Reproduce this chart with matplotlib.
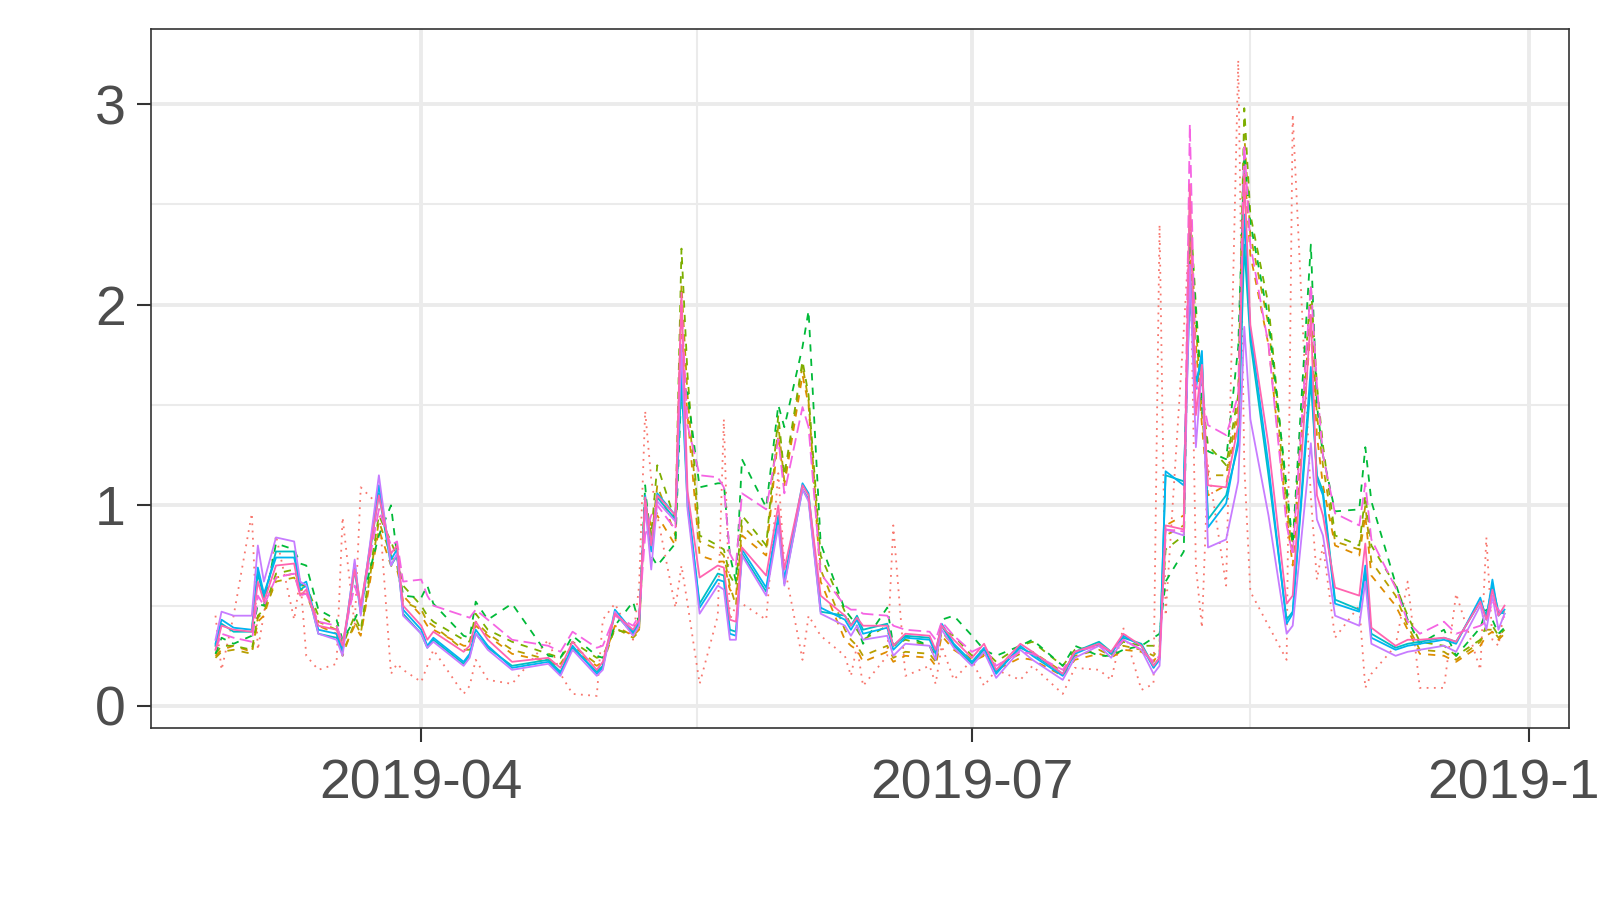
import numpy as np
import pandas as pd
import matplotlib
matplotlib.use("Agg")
import matplotlib.pyplot as plt
import matplotlib.dates as mdates
from matplotlib.ticker import FixedLocator

plt.rcParams['font.family'] = ['Liberation Sans', 'DejaVu Sans']

# Business days kept as line vertices (Feb 26 - Sep 27, 2019)
dates = pd.to_datetime([
    # A: Feb 26 - Mar 29
    "2019-02-26", "2019-02-27", "2019-03-01", "2019-03-04", "2019-03-05", "2019-03-06",
    "2019-03-08", "2019-03-11", "2019-03-12", "2019-03-13", "2019-03-15", "2019-03-18",
    "2019-03-19", "2019-03-21", "2019-03-22", "2019-03-25", "2019-03-27", "2019-03-28",
    "2019-03-29",
    # B: Apr 1 - May 3
    "2019-04-01", "2019-04-02", "2019-04-03", "2019-04-08", "2019-04-09", "2019-04-10",
    "2019-04-12", "2019-04-16", "2019-04-22", "2019-04-24", "2019-04-26", "2019-04-30",
    "2019-05-01", "2019-05-03",
    # C: May 6 - May 31
    "2019-05-06", "2019-05-07", "2019-05-08", "2019-05-09", "2019-05-10", "2019-05-13",
    "2019-05-14", "2019-05-15", "2019-05-17", "2019-05-20", "2019-05-21", "2019-05-22",
    "2019-05-23", "2019-05-24", "2019-05-28", "2019-05-30", "2019-05-31",
    # D: Jun
    "2019-06-03", "2019-06-04", "2019-06-06", "2019-06-10", "2019-06-11", "2019-06-12",
    "2019-06-13", "2019-06-17", "2019-06-18", "2019-06-20", "2019-06-24", "2019-06-25",
    "2019-06-26", "2019-06-28",
    # E: Jul
    "2019-07-01", "2019-07-03", "2019-07-05", "2019-07-09", "2019-07-11", "2019-07-16",
    "2019-07-18", "2019-07-22", "2019-07-24", "2019-07-26", "2019-07-29", "2019-07-31",
    # F: Aug
    "2019-08-01", "2019-08-02", "2019-08-05", "2019-08-06", "2019-08-07", "2019-08-08",
    "2019-08-09", "2019-08-12", "2019-08-14", "2019-08-15", "2019-08-16", "2019-08-19",
    "2019-08-22", "2019-08-23", "2019-08-26", "2019-08-27", "2019-08-28", "2019-08-30",
    # G: Sep
    "2019-09-03", "2019-09-04", "2019-09-05", "2019-09-09", "2019-09-11", "2019-09-13",
    "2019-09-17", "2019-09-19", "2019-09-23", "2019-09-24", "2019-09-25", "2019-09-26",
    "2019-09-27",
])

obs_red = [
    0.45, 0.18, 0.45, 0.96, 0.28, 0.46, 0.85, 0.43, 0.64, 0.25, 0.18, 0.21, 0.94, 0.40, 1.09, 1.00, 0.16, 0.21, 0.18,
    0.12, 0.20, 0.28, 0.06, 0.10, 0.23, 0.13, 0.11, 0.33, 0.16, 0.06, 0.05, 0.43, 0.51,
    0.33, 0.60, 1.47, 1.13, 0.95, 0.49, 0.70, 0.51, 0.11, 0.45, 1.43, 0.43, 0.50, 0.51, 0.43, 1.16, 0.70,
    0.23, 0.45, 0.35, 0.25, 0.15, 0.30, 0.10, 0.25, 0.90, 0.15, 0.20, 0.11, 0.30, 0.13,
    0.23, 0.10, 0.18, 0.13, 0.20, 0.06, 0.19, 0.18, 0.13, 0.39, 0.08, 0.11,
    2.40, 0.45, 1.87, 2.40, 0.70, 0.39, 1.20, 0.60, 3.22, 1.20, 0.57, 0.40, 0.23, 2.95, 1.04, 0.63, 0.80, 0.34,
    0.50, 0.09, 0.16, 0.30, 0.62, 0.09, 0.09, 0.56, 0.18, 0.84, 0.33, 0.30, 0.49,
]

dash_orange = [
    0.25, 0.28, 0.30, 0.27, 0.42, 0.45, 0.64, 0.66, 0.56, 0.56, 0.40, 0.36, 0.27, 0.40, 0.35, 0.88, 0.70, 0.68, 0.55,
    0.45, 0.40, 0.38, 0.30, 0.30, 0.40, 0.35, 0.26, 0.22, 0.20, 0.28, 0.20, 0.22, 0.40,
    0.35, 0.38, 1.00, 0.90, 0.95, 0.80, 1.85, 1.45, 0.75, 0.72, 0.72, 0.58, 0.55, 0.85, 0.75, 1.35, 1.10,
    1.65, 1.50, 0.62, 0.33, 0.30, 0.28, 0.22, 0.27, 0.22, 0.25, 0.24, 0.20, 0.35, 0.28,
    0.22, 0.25, 0.18, 0.24, 0.23, 0.15, 0.23, 0.26, 0.24, 0.28, 0.27, 0.22,
    0.27, 0.90, 0.95, 2.30, 1.80, 1.40, 1.05, 1.10, 1.45, 2.70, 2.25, 1.80, 0.95, 0.70, 1.90, 1.35, 1.10, 0.80,
    0.75, 0.95, 0.65, 0.50, 0.38, 0.26, 0.25, 0.22, 0.30, 0.35, 0.37, 0.33, 0.36,
]

dash_mustard = [
    0.24, 0.27, 0.28, 0.26, 0.44, 0.47, 0.62, 0.64, 0.58, 0.58, 0.42, 0.38, 0.25, 0.42, 0.36, 0.92, 0.75, 0.70, 0.52,
    0.48, 0.42, 0.40, 0.28, 0.28, 0.42, 0.36, 0.28, 0.23, 0.21, 0.30, 0.21, 0.21, 0.39,
    0.34, 0.37, 1.02, 0.82, 1.10, 0.85, 2.10, 1.55, 0.82, 0.78, 0.75, 0.60, 0.50, 0.90, 0.78, 1.40, 1.12,
    1.70, 1.52, 0.68, 0.38, 0.33, 0.30, 0.25, 0.30, 0.24, 0.27, 0.26, 0.22, 0.37, 0.30,
    0.23, 0.26, 0.20, 0.26, 0.27, 0.17, 0.25, 0.28, 0.25, 0.30, 0.28, 0.25,
    0.29, 0.85, 0.90, 2.40, 1.90, 1.45, 1.15, 1.15, 1.50, 2.85, 2.35, 1.90, 1.00, 0.75, 2.00, 1.45, 1.20, 0.82,
    0.78, 1.00, 0.72, 0.55, 0.40, 0.28, 0.27, 0.23, 0.32, 0.38, 0.38, 0.34, 0.37,
]

dash_olive = [
    0.26, 0.30, 0.30, 0.28, 0.45, 0.48, 0.66, 0.68, 0.60, 0.60, 0.45, 0.40, 0.30, 0.45, 0.38, 0.95, 0.82, 0.74, 0.60,
    0.50, 0.45, 0.42, 0.33, 0.32, 0.46, 0.38, 0.32, 0.26, 0.24, 0.32, 0.24, 0.25, 0.38,
    0.36, 0.40, 1.05, 0.85, 1.20, 0.92, 2.28, 1.65, 0.85, 0.80, 0.78, 0.65, 0.60, 0.95, 0.80, 1.45, 1.15,
    1.72, 1.55, 0.75, 0.47, 0.40, 0.38, 0.33, 0.40, 0.30, 0.33, 0.30, 0.25, 0.38, 0.35,
    0.25, 0.28, 0.22, 0.30, 0.32, 0.20, 0.28, 0.30, 0.26, 0.32, 0.30, 0.30,
    0.32, 0.78, 0.85, 2.50, 2.00, 1.55, 1.30, 1.20, 1.55, 2.98, 2.45, 2.00, 1.05, 0.80, 2.10, 1.60, 1.30, 0.85,
    0.80, 1.05, 0.80, 0.60, 0.45, 0.32, 0.30, 0.25, 0.33, 0.40, 0.40, 0.35, 0.38,
]

dash_green = [
    0.26, 0.34, 0.31, 0.35, 0.51, 0.50, 0.81, 0.78, 0.71, 0.70, 0.48, 0.43, 0.33, 0.43, 0.50, 0.85, 1.00, 0.75, 0.55,
    0.54, 0.60, 0.51, 0.35, 0.34, 0.52, 0.43, 0.51, 0.25, 0.24, 0.35, 0.25, 0.24, 0.40,
    0.52, 0.41, 1.10, 0.75, 0.70, 0.81, 1.60, 1.56, 1.09, 1.11, 1.11, 0.75, 0.62, 1.23, 0.99, 1.50, 1.39,
    1.79, 1.97, 0.81, 0.48, 0.44, 0.40, 0.31, 0.49, 0.30, 0.35, 0.30, 0.23, 0.43, 0.45,
    0.35, 0.28, 0.25, 0.30, 0.33, 0.20, 0.30, 0.25, 0.25, 0.28, 0.30, 0.34,
    0.36, 0.62, 0.77, 2.41, 1.97, 1.49, 1.27, 1.23, 1.79, 2.75, 2.41, 1.93, 1.09, 0.81, 2.30, 1.50, 1.25, 0.97,
    0.98, 1.29, 1.02, 0.61, 0.43, 0.31, 0.38, 0.25, 0.39, 0.48, 0.43, 0.36, 0.39,
]

solid_cyan = [
    0.30, 0.41, 0.37, 0.37, 0.66, 0.54, 0.77, 0.77, 0.58, 0.60, 0.36, 0.34, 0.27, 0.68, 0.46, 1.06, 0.70, 0.75, 0.46,
    0.36, 0.29, 0.33, 0.21, 0.25, 0.36, 0.29, 0.20, 0.23, 0.17, 0.29, 0.17, 0.20, 0.46,
    0.36, 0.41, 1.02, 0.80, 1.04, 0.93, 1.62, 1.00, 0.51, 0.66, 0.65, 0.38, 0.37, 0.76, 0.57, 0.92, 0.61,
    1.08, 1.03, 0.47, 0.45, 0.40, 0.45, 0.38, 0.41, 0.30, 0.35, 0.34, 0.27, 0.40, 0.30,
    0.21, 0.28, 0.17, 0.29, 0.26, 0.16, 0.27, 0.32, 0.27, 0.34, 0.31, 0.20,
    0.24, 1.15, 1.12, 2.05, 1.62, 1.72, 0.93, 1.05, 1.30, 2.30, 1.82, 1.15, 0.43, 0.47, 1.62, 1.15, 1.07, 0.53,
    0.48, 0.66, 0.36, 0.29, 0.31, 0.32, 0.34, 0.32, 0.52, 0.45, 0.60, 0.47, 0.46,
]

solid_blue = [
    0.31, 0.43, 0.39, 0.38, 0.69, 0.56, 0.74, 0.74, 0.60, 0.62, 0.38, 0.36, 0.28, 0.71, 0.48, 1.10, 0.73, 0.78, 0.48,
    0.38, 0.30, 0.34, 0.22, 0.26, 0.38, 0.30, 0.19, 0.22, 0.16, 0.30, 0.16, 0.19, 0.48,
    0.37, 0.42, 1.05, 0.77, 1.06, 0.95, 1.71, 1.04, 0.49, 0.63, 0.62, 0.36, 0.35, 0.78, 0.59, 0.95, 0.63,
    1.11, 1.06, 0.49, 0.43, 0.38, 0.43, 0.36, 0.39, 0.28, 0.34, 0.33, 0.26, 0.41, 0.31,
    0.22, 0.29, 0.16, 0.30, 0.25, 0.15, 0.26, 0.31, 0.26, 0.35, 0.30, 0.19,
    0.23, 1.17, 1.10, 2.19, 1.58, 1.77, 0.89, 1.01, 1.33, 2.45, 1.87, 1.20, 0.41, 0.46, 1.69, 1.13, 1.05, 0.51,
    0.47, 0.70, 0.34, 0.28, 0.30, 0.31, 0.33, 0.31, 0.54, 0.43, 0.63, 0.45, 0.48,
]

solid_purple = [
    0.33, 0.47, 0.45, 0.45, 0.80, 0.62, 0.84, 0.82, 0.62, 0.60, 0.36, 0.33, 0.25, 0.73, 0.45, 1.15, 0.70, 0.76, 0.45,
    0.36, 0.29, 0.32, 0.20, 0.24, 0.36, 0.28, 0.18, 0.21, 0.15, 0.28, 0.15, 0.18, 0.47,
    0.35, 0.40, 1.00, 0.68, 1.02, 0.92, 1.80, 0.98, 0.46, 0.60, 0.58, 0.33, 0.33, 0.75, 0.55, 0.90, 0.60,
    1.08, 1.02, 0.46, 0.40, 0.35, 0.40, 0.33, 0.35, 0.25, 0.31, 0.30, 0.23, 0.38, 0.29,
    0.20, 0.27, 0.14, 0.28, 0.23, 0.13, 0.24, 0.30, 0.24, 0.33, 0.28, 0.16,
    0.20, 0.88, 0.85, 2.20, 1.29, 1.70, 0.79, 0.83, 1.12, 1.89, 1.43, 0.95, 0.36, 0.40, 1.31, 0.93, 0.85, 0.45,
    0.40, 0.62, 0.31, 0.25, 0.27, 0.28, 0.30, 0.27, 0.50, 0.38, 0.55, 0.38, 0.46,
]

dash_magenta = [
    0.28, 0.36, 0.34, 0.32, 0.55, 0.50, 0.64, 0.66, 0.55, 0.56, 0.42, 0.40, 0.32, 0.60, 0.50, 0.98, 0.80, 0.82, 0.62,
    0.63, 0.55, 0.50, 0.45, 0.44, 0.48, 0.43, 0.33, 0.30, 0.27, 0.37, 0.29, 0.30, 0.45,
    0.40, 0.45, 0.85, 0.95, 1.00, 0.88, 2.00, 1.40, 1.15, 1.14, 1.09, 0.76, 0.70, 1.06, 0.98, 1.33, 1.06,
    1.49, 1.39, 0.66, 0.50, 0.48, 0.48, 0.46, 0.45, 0.40, 0.38, 0.37, 0.33, 0.42, 0.35,
    0.27, 0.30, 0.20, 0.27, 0.26, 0.18, 0.27, 0.30, 0.27, 0.33, 0.28, 0.22,
    0.25, 0.88, 0.87, 2.90, 1.60, 1.55, 1.40, 1.35, 1.55, 2.80, 2.30, 1.80, 0.90, 0.75, 2.10, 1.60, 1.25, 0.96,
    0.90, 1.11, 0.83, 0.59, 0.42, 0.36, 0.42, 0.36, 0.40, 0.42, 0.52, 0.48, 0.44,
]

solid_pink = [
    0.28, 0.40, 0.38, 0.37, 0.62, 0.52, 0.70, 0.71, 0.55, 0.58, 0.40, 0.38, 0.30, 0.68, 0.50, 1.05, 0.76, 0.80, 0.50,
    0.40, 0.33, 0.37, 0.27, 0.30, 0.42, 0.33, 0.22, 0.24, 0.19, 0.32, 0.18, 0.22, 0.46,
    0.38, 0.43, 1.04, 0.80, 1.05, 0.95, 2.06, 1.07, 0.64, 0.70, 0.69, 0.43, 0.42, 0.79, 0.65, 1.00, 0.68,
    1.10, 1.05, 0.55, 0.45, 0.40, 0.44, 0.40, 0.40, 0.30, 0.36, 0.35, 0.28, 0.40, 0.33,
    0.24, 0.31, 0.18, 0.31, 0.27, 0.16, 0.27, 0.31, 0.27, 0.36, 0.30, 0.20,
    0.24, 0.90, 0.88, 2.60, 1.45, 1.70, 1.10, 1.09, 1.40, 2.65, 1.90, 1.30, 0.51, 0.55, 1.95, 1.05, 0.95, 0.59,
    0.55, 0.81, 0.39, 0.30, 0.33, 0.33, 0.34, 0.32, 0.52, 0.43, 0.58, 0.45, 0.50,
]

# draw order follows the ggplot hue order
series = [
    (obs_red, "#F8766D", (0, (1, 3))),
    (dash_orange, "#DE8C00", (0, (4, 4))),
    (dash_mustard, "#B79F00", (0, (4, 4))),
    (dash_olive, "#7CAE00", (0, (4, 4))),
    (dash_green, "#00BA38", (0, (4, 4))),
    (solid_cyan, "#00BFC4", "-"),
    (solid_blue, "#00B4F0", "-"),
    (solid_purple, "#C77CFF", "-"),
    (dash_magenta, "#F564E3", (0, (7, 3))),
    (solid_pink, "#FF64B0", "-"),
]

fig = plt.figure(figsize=(16, 9), dpi=100)
ax = fig.add_axes([0.0944, 0.1911, 0.8862, 0.7767])

for vals, col, ls in series:
    assert len(vals) == len(dates)
    ax.plot(dates, vals, color=col, linestyle=ls, linewidth=1.3)

# ggplot-style 5% expansion
span = dates[-1] - dates[0]
ax.set_xlim(dates[0] - span * 0.05, dates[-1] + span * 0.05)
ax.set_ylim(-0.11, 3.375)

major_dates = pd.to_datetime(["2019-04-01", "2019-07-01", "2019-10-01"])
minor_dates = [major_dates[0] + (major_dates[1] - major_dates[0]) / 2,
               major_dates[1] + (major_dates[2] - major_dates[1]) / 2]
ax.xaxis.set_major_locator(FixedLocator(mdates.date2num(major_dates)))
ax.xaxis.set_minor_locator(FixedLocator(mdates.date2num(minor_dates)))
ax.xaxis.set_major_formatter(mdates.DateFormatter("%Y-%m"))
ax.yaxis.set_major_locator(FixedLocator([0, 1, 2, 3]))
ax.yaxis.set_minor_locator(FixedLocator([0.5, 1.5, 2.5]))

ax.set_axisbelow(True)
ax.grid(which="major", color="#EBEBEB", linewidth=2.8)
ax.grid(which="minor", color="#EBEBEB", linewidth=1.5)
for sp in ax.spines.values():
    sp.set_color("#333333")
    sp.set_linewidth(1.2)

ax.tick_params(which="major", length=10, width=1.5, color="#333333",
               labelsize=40, labelcolor="#4D4D4D")
ax.tick_params(axis="x", which="major", pad=12)
ax.tick_params(axis="y", which="major", pad=8)
ax.tick_params(which="minor", length=0)

fig.savefig("out.png", dpi=100)
